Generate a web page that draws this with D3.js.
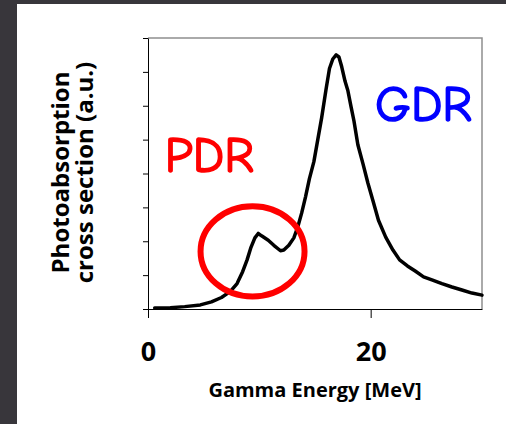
<!DOCTYPE html>
<html>
<head>
<meta charset="utf-8">
<script src="https://cdn.jsdelivr.net/npm/d3@7"></script>
<style>
  html, body { margin: 0; padding: 0; background: #38363b; }
  svg { display: block; }
</style>
</head>
<body>
<svg id="chart" width="506" height="424"></svg>
<script>
// Photoabsorption cross section vs gamma energy (arbitrary units)
const energy = [0.6, 2.0, 3.3, 4.7, 5.7, 6.6, 7.4, 8.0, 8.5, 8.9, 9.25, 9.6, 9.9, 10.2, 10.8, 11.3, 11.9, 12.2, 12.65, 13.1,
  13.45, 13.8, 14.15, 14.5, 14.9, 15.25, 15.6, 16.0, 16.3, 16.6, 16.9, 17.15, 17.4, 17.7, 17.95, 18.25, 18.5, 18.85, 19.3,
  19.75, 20.2, 20.7, 21.35, 22.0, 22.6, 23.3, 24.0, 24.75, 25.5, 26.4, 27.3, 28.2, 29.1, 30.0];
const crossSection = [0.03, 0.04, 0.07, 0.12, 0.21, 0.34, 0.52, 0.75, 1.1, 1.45, 1.82, 2.1, 2.23, 2.16, 2.03, 1.88, 1.72, 1.74, 1.88, 2.1,
  2.42, 2.83, 3.31, 3.85, 4.35, 5.0, 5.65, 6.5, 7.1, 7.38, 7.5, 7.44, 7.15, 6.72, 6.45, 5.95, 5.55, 4.85, 4.3,
  3.72, 3.2, 2.62, 2.12, 1.74, 1.45, 1.27, 1.12, 0.95, 0.86, 0.75, 0.65, 0.56, 0.47, 0.41];

const xTicks = [0, 20];
const yTicks = [0, 1, 2, 3, 4, 5, 6, 7, 8];
const xTitle = "Gamma Energy [MeV]";
const yTitleLines = ["Photoabsorption", "cross section (a.u.)"];

// Resonance annotations (data units)
const pdrLabel = { text: "PDR", e: 1.5, v: 4.04 };
const gdrLabel = { text: "GDR", e: 20.4, v: 5.55 };
const pdrRing = { e: 9.39, v: 1.70, re: 4.67, rv: 1.33 };

const svg = d3.select("#chart");
const plot = { left: 148, right: 482, top: 38, bottom: 309 };

// white slide panel
svg.append("rect").attr("x", 17).attr("y", 4).attr("width", 489).attr("height", 420).attr("fill", "#ffffff");

const x = d3.scaleLinear().domain([0, 30]).range([plot.left, plot.right]);
const y = d3.scaleLinear().domain([0, 8]).range([plot.bottom, plot.top]);

const font = "'Open Sans', 'DejaVu Sans', sans-serif";

// gray frame on top and right
svg.append("path")
  .attr("d", `M${plot.left},${plot.top}H${plot.right}V${plot.bottom}`)
  .attr("fill", "none").attr("stroke", "#8e8e8e").attr("stroke-width", 1.5);

// y axis: ticks only
const gy = svg.append("g").attr("transform", `translate(${plot.left},0)`)
  .call(d3.axisLeft(y).tickValues(yTicks).tickSize(5).tickSizeOuter(0).tickFormat(""));
gy.selectAll("path, line").attr("stroke", "#000").attr("stroke-width", 1);

// x axis
const gx = svg.append("g").attr("transform", `translate(0,${plot.bottom})`)
  .call(d3.axisBottom(x).tickValues(xTicks).tickSize(9).tickSizeOuter(0).tickPadding(24).tickFormat(d3.format("d")));
gx.selectAll("path, line").attr("stroke", "#000").attr("stroke-width", 1);
gx.selectAll("text")
  .attr("fill", "#000")
  .style("font-family", font).style("font-weight", "bold").style("font-size", "27px");

// axis titles
svg.append("text")
  .attr("x", (plot.left + plot.right) / 2).attr("y", 397)
  .attr("text-anchor", "middle")
  .style("font-family", font).style("font-weight", "bold").style("font-size", "20px")
  .text(xTitle);

const yt = svg.append("text")
  .attr("transform", `translate(69,${(plot.top + plot.bottom) / 2 - 1}) rotate(-90)`)
  .attr("text-anchor", "middle")
  .style("font-family", font).style("font-weight", "bold").style("font-size", "24px");
yt.selectAll("tspan").data(yTitleLines).join("tspan")
  .attr("x", 0).attr("dy", (d, i) => i === 0 ? 0 : 24)
  .text(d => d);

// spectrum curve
const pts = energy.map((e, i) => [e, crossSection[i]]);
svg.append("path")
  .datum(pts)
  .attr("fill", "none")
  .attr("stroke", "#000")
  .attr("stroke-width", 3.5)
  .attr("stroke-linejoin", "round")
  .attr("stroke-linecap", "round")
  .attr("d", d3.line().x(d => x(d[0])).y(d => y(d[1])));

// ring around the pygmy resonance
svg.append("ellipse")
  .attr("cx", x(pdrRing.e)).attr("cy", y(pdrRing.v))
  .attr("rx", x(pdrRing.re) - x(0)).attr("ry", y(0) - y(pdrRing.rv))
  .attr("fill", "none").attr("stroke", "#ff0000").attr("stroke-width", 6);

const handFont = "'Comic Sans MS', 'Comic Neue', Lato, sans-serif";
svg.append("text")
  .attr("x", x(pdrLabel.e)).attr("y", y(pdrLabel.v))
  .attr("fill", "#ff0000").attr("stroke", "#ff0000").attr("stroke-width", 1.6)
  .style("font-family", handFont).style("font-size", "50px")
  .text(pdrLabel.text);
svg.append("text")
  .attr("x", x(gdrLabel.e)).attr("y", y(gdrLabel.v))
  .attr("fill", "#0000ff").attr("stroke", "#0000ff").attr("stroke-width", 1.6)
  .style("font-family", handFont).style("font-size", "50px")
  .text(gdrLabel.text);
</script>
</body>
</html>
